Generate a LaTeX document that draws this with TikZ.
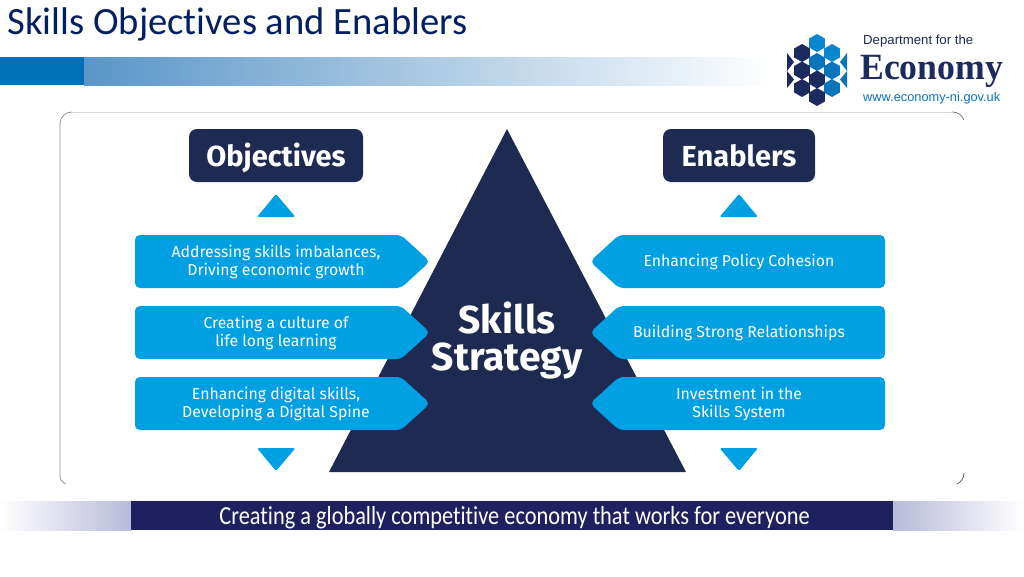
\documentclass[tikz,border=0pt]{standalone}
\usepackage{fontspec}
\setmainfont[Ligatures={NoCommon}]{Carlito}
\newfontfamily\lblfont{Fira Sans}
\newfontfamily\logofont{Liberation Sans}
\newfontfamily\ecofont{Liberation Serif}
\definecolor{navy}{HTML}{1F2A52}
\definecolor{sky}{HTML}{00A0E3}
\definecolor{titleblue}{HTML}{002060}
\definecolor{barblue}{HTML}{0070B8}
\definecolor{barstart}{HTML}{5A96C8}
\definecolor{barmid}{HTML}{B4C5E5}
\definecolor{bandnavy}{HTML}{1F2060}
\definecolor{bandfade}{HTML}{B8BAD8}
\definecolor{logodark}{HTML}{1D2A5E}
\definecolor{logomid}{HTML}{0A75BC}
\definecolor{logolight}{HTML}{0A86CC}
\usetikzlibrary{shapes.geometric}
\tikzset{
  pent/.style={fill=sky,rounded corners=5pt},
  tri/.style={fill=sky,rounded corners=1.5pt},
  head/.style={text=white,font=\lblfont\bfseries\fontsize{29}{32}\selectfont,anchor=base,inner sep=0pt},
  lbl/.style={text=white,font=\lblfont\fontsize{15.8}{18}\selectfont,align=center,inner sep=0pt},
  hex/.style={regular polygon,regular polygon sides=6,shape border rotate=30,minimum size=18pt,inner sep=0pt,draw=none},
}
\begin{document}
\begin{tikzpicture}[x=1pt,y=-1pt]
\useasboundingbox (0,0) rectangle (1024,576);
\fill[white] (0,0) rectangle (1024,576);
% title
\node[anchor=west,text=titleblue,font=\fontsize{38.6}{40}\selectfont,inner sep=0pt] (title) at (7.5,24) {Skills Objectives and Enablers};
% top bar
\fill[barblue] (0,57) rectangle (84,85);
\fill[left color=barstart,middle color=barmid,right color=white] (84,57) rectangle (775,85);
% panel
\draw[black!14,line width=0.7pt] (72,112) -- (952,112);
\draw[black!45,line width=0.7pt] (72,112) .. controls (65,112) and (60,117) .. (60,124) -- (60,476) .. controls (60,480) and (62,482) .. (66,484);
\draw[black!55,line width=0.7pt] (952,112) .. controls (958,112) and (962,115) .. (964,120);
\draw[black!70,line width=0.7pt] (964,473) .. controls (964,478) and (961,482) .. (957,484);
% pyramid
\fill[navy] (507,129) -- (686,472) -- (329,472) -- cycle;
\node[text=white,font=\lblfont\bfseries\fontsize{39}{37}\selectfont,align=center,inner sep=0pt] (strategy) at (507,340.5) {Skills\\Strategy};
% headers
\fill[navy,rounded corners=8pt] (189,129) rectangle (363,182);
\node[head] (obj) at (276,166) {Objectives};
\fill[navy,rounded corners=8pt] (663,129) rectangle (815,182);
\node[head] (ena) at (739,166) {Enablers};
% triangles
\fill[tri] (276,194) -- (295.5,217) -- (257,217) -- cycle;
\fill[tri] (739,194) -- (758,217) -- (719.5,217) -- cycle;
\fill[tri] (257,448) -- (295.5,448) -- (276,471) -- cycle;
\fill[tri] (719.5,448) -- (758,448) -- (739,471) -- cycle;
% pentagons
\foreach \y in {235,306,377}{
  \fill[pent] (135,\y) -- (401,\y) -- (430,\y+26.5) -- (401,\y+53) -- (135,\y+53) -- cycle;
  \fill[pent] (885,\y) -- (619,\y) -- (590,\y+26.5) -- (619,\y+53) -- (885,\y+53) -- cycle;
}
\node[lbl] (l1) at (276,262) {Addressing skills imbalances,\\Driving economic growth};
\node[lbl] (l2) at (276,333) {Creating a culture of\\life long learning};
\node[lbl] (l3) at (276,404) {Enhancing digital skills,\\Developing a Digital Spine};
\node[lbl] (r1) at (739,262) {Enhancing Policy Cohesion};
\node[lbl] (r2) at (739,333) {Building Strong Relationships};
\node[lbl] (r3) at (739,404) {Investment in the\\Skills System};
% bottom band
\fill[left color=white,right color=bandfade] (0,501) rectangle (131,530);
\fill[left color=bandfade,right color=white] (893,501) rectangle (1024,530);
\fill[bandnavy] (131,501) rectangle (893,530);
\node[text=white,font=\fontsize{26}{28}\selectfont,xscale=0.86,inner sep=0pt] (band) at (514.5,517.5) {Creating a globally competitive economy that works for everyone};
% logo
\foreach \cx/\cy/\c in {817/43/logolight,802/53/logodark,832/53/logolight,817/62/logomid,802/70.5/logodark,832/70.5/logomid,817/79.5/logodark,802/88/logodark,832/88/logomid,817/97/logodark}{
  \node[hex,fill=\c] at (\cx,\cy) {};
}
\fill[logodark] (787,53) -- (794,62) -- (787,71) -- cycle;
\fill[logodark] (787,71) -- (794,79.5) -- (787,88) -- cycle;
\fill[logomid] (847,53) -- (840,62) -- (847,71) -- cycle;
\fill[logomid] (847,71) -- (840,79.5) -- (847,88) -- cycle;
\node[anchor=west,text=logodark,font=\logofont\fontsize{13.2}{14}\selectfont,inner sep=0pt] (dep) at (863,41) {Department for the};
\node[anchor=west,text=logodark,font=\ecofont\bfseries\fontsize{37}{38}\selectfont,xscale=0.965,inner sep=0pt] (eco) at (860,71) {Economy};
\node[anchor=west,text=logomid,font=\logofont\fontsize{12.8}{14}\selectfont,inner sep=0pt] (url) at (863,98) {www.economy-ni.gov.uk};
\end{tikzpicture}
\end{document}
